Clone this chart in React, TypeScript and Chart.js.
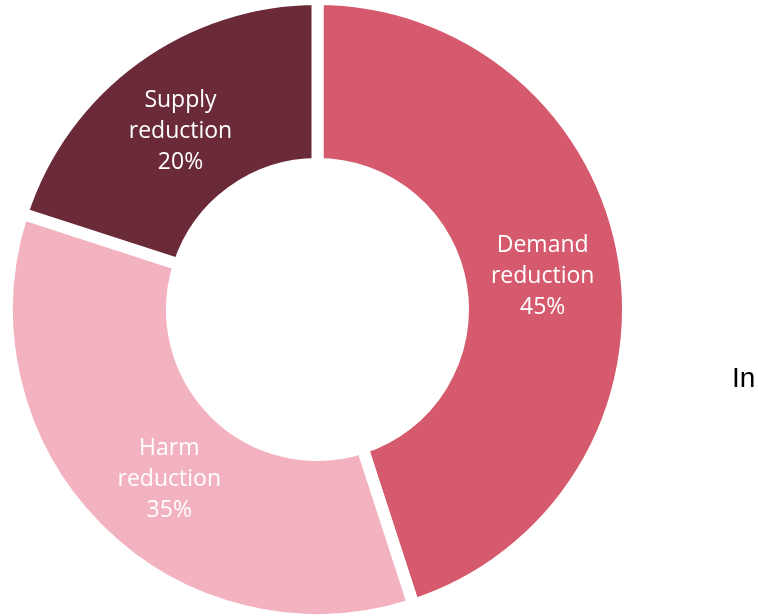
import React, { useEffect, useRef } from "react";
import { Chart, registerables } from "chart.js";

Chart.register(...registerables);

const categories = ["Demand reduction", "Harm reduction", "Supply reduction"];
const labelLines = [["Demand", "reduction"], ["Harm", "reduction"], ["Supply", "reduction"]];
const shares = [45, 35, 20];
const colors = ["#D55A6E", "#F3B2BF", "#6A2A38"];

const labelNudge = [
  [0, 3],
  [13, 9],
  [-3, 6],
];

const labelPlugin = {
  id: "sliceLabels",
  afterDatasetsDraw(chart: any) {
    const ctx = chart.ctx;
    const meta = chart.getDatasetMeta(0);
    ctx.save();
    ctx.fillStyle = "#ffffff";
    ctx.font = "500 23px 'Open Sans', sans-serif";
    ctx.textAlign = "center";
    ctx.textBaseline = "middle";
    meta.data.forEach((arc: any, i: number) => {
      const p = arc.getCenterPoint();
      const lines = [...labelLines[i], shares[i] + "%"];
      const lh = 31;
      lines.forEach((t, k) => {
        ctx.fillText(
          t,
          p.x + labelNudge[i][0],
          p.y + labelNudge[i][1] + (k - (lines.length - 1) / 2) * lh
        );
      });
    });
    ctx.restore();
  },
};

export default function App() {
  const ref = useRef<HTMLCanvasElement>(null);
  useEffect(() => {
    const chart = new Chart(ref.current!, {
      type: "doughnut",
      data: {
        labels: categories,
        datasets: [
          {
            data: shares,
            backgroundColor: colors,
            borderColor: "#ffffff",
            borderWidth: 12,
            borderAlign: "center",
            borderJoinStyle: "miter",
          },
        ],
      },
      options: {
        responsive: false,
        animation: false,
        radius: 310.5,
        cutout: "46.86%",
        layout: { padding: { left: 0, top: 3, bottom: 0, right: 123 } },
        plugins: {
          legend: { display: false },
          tooltip: { enabled: false },
        },
      },
      plugins: [labelPlugin],
    });
    return () => chart.destroy();
  }, []);
  return (
    <div style={{ position: "absolute", left: 0, top: 0, width: 758, height: 616, background: "#fff" }}>
      <canvas ref={ref} width={758} height={616} style={{ display: "block" }} />
      <div
        style={{
          position: "absolute",
          left: 732,
          top: 362,
          fontFamily: "'Liberation Sans', Arial, sans-serif",
          fontSize: 28,
          color: "#000",
          whiteSpace: "nowrap",
        }}
      >
        In
      </div>
    </div>
  );
}
